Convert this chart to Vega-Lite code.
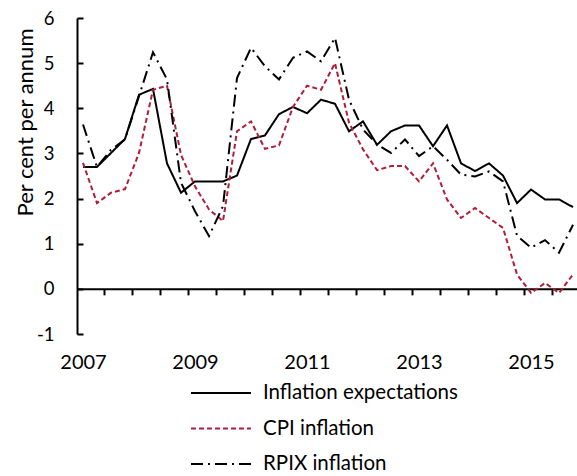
{
  "$schema": "https://vega.github.io/schema/vega-lite/v6.json",
  "width": 500,
  "height": 316,
  "autosize": {"type": "none"},
  "padding": {"left": 77, "top": 18, "right": 0, "bottom": 142},
  "config": {
    "view": {"stroke": null},
    "font": "Lato",
    "axis": {"grid": false, "domainColor": "#000000", "tickColor": "#000000", "labelColor": "#000000", "titleColor": "#000000"},
    "legend": {
      "orient": "none", "legendX": 133, "legendY": 364, "direction": "vertical",
      "symbolType": "M-3,0H3", "symbolSize": 400, "symbolStrokeWidth": 2,
      "labelFontSize": 20.5, "labelColor": "#000000", "labelOffset": 31, "rowPadding": 13.5, "padding": 0, "labelLimit": 400
    }
  },
  "data": {"values": [
    {"t": 2007.00, "Inflation expectations": 2.70, "CPI inflation": 2.79, "RPIX inflation": 3.64},
    {"t": 2007.25, "Inflation expectations": 2.70, "CPI inflation": 1.90, "RPIX inflation": 2.70},
    {"t": 2007.50, "Inflation expectations": 3.01, "CPI inflation": 2.13, "RPIX inflation": 3.08},
    {"t": 2007.75, "Inflation expectations": 3.32, "CPI inflation": 2.21, "RPIX inflation": 3.31},
    {"t": 2008.00, "Inflation expectations": 4.30, "CPI inflation": 3.01, "RPIX inflation": 4.27},
    {"t": 2008.25, "Inflation expectations": 4.43, "CPI inflation": 4.41, "RPIX inflation": 5.24},
    {"t": 2008.50, "Inflation expectations": 2.78, "CPI inflation": 4.50, "RPIX inflation": 4.64},
    {"t": 2008.75, "Inflation expectations": 2.13, "CPI inflation": 2.97, "RPIX inflation": 2.35},
    {"t": 2009.00, "Inflation expectations": 2.38, "CPI inflation": 2.27, "RPIX inflation": 1.72},
    {"t": 2009.25, "Inflation expectations": 2.38, "CPI inflation": 1.76, "RPIX inflation": 1.17},
    {"t": 2009.50, "Inflation expectations": 2.38, "CPI inflation": 1.50, "RPIX inflation": 1.83},
    {"t": 2009.75, "Inflation expectations": 2.51, "CPI inflation": 3.49, "RPIX inflation": 4.67},
    {"t": 2010.00, "Inflation expectations": 3.32, "CPI inflation": 3.71, "RPIX inflation": 5.34},
    {"t": 2010.25, "Inflation expectations": 3.40, "CPI inflation": 3.10, "RPIX inflation": 4.93},
    {"t": 2010.50, "Inflation expectations": 3.87, "CPI inflation": 3.18, "RPIX inflation": 4.64},
    {"t": 2010.75, "Inflation expectations": 4.03, "CPI inflation": 4.03, "RPIX inflation": 5.12},
    {"t": 2011.00, "Inflation expectations": 3.89, "CPI inflation": 4.50, "RPIX inflation": 5.26},
    {"t": 2011.25, "Inflation expectations": 4.19, "CPI inflation": 4.41, "RPIX inflation": 5.04},
    {"t": 2011.50, "Inflation expectations": 4.10, "CPI inflation": 5.00, "RPIX inflation": 5.56},
    {"t": 2011.75, "Inflation expectations": 3.49, "CPI inflation": 3.68, "RPIX inflation": 4.19},
    {"t": 2012.00, "Inflation expectations": 3.71, "CPI inflation": 3.09, "RPIX inflation": 3.53},
    {"t": 2012.25, "Inflation expectations": 3.19, "CPI inflation": 2.63, "RPIX inflation": 3.20},
    {"t": 2012.50, "Inflation expectations": 3.49, "CPI inflation": 2.72, "RPIX inflation": 3.01},
    {"t": 2012.75, "Inflation expectations": 3.62, "CPI inflation": 2.72, "RPIX inflation": 3.31},
    {"t": 2013.00, "Inflation expectations": 3.62, "CPI inflation": 2.38, "RPIX inflation": 2.94},
    {"t": 2013.25, "Inflation expectations": 3.16, "CPI inflation": 2.78, "RPIX inflation": 3.16},
    {"t": 2013.50, "Inflation expectations": 3.62, "CPI inflation": 1.98, "RPIX inflation": 2.86},
    {"t": 2013.75, "Inflation expectations": 2.78, "CPI inflation": 1.57, "RPIX inflation": 2.53},
    {"t": 2014.00, "Inflation expectations": 2.61, "CPI inflation": 1.79, "RPIX inflation": 2.49},
    {"t": 2014.25, "Inflation expectations": 2.78, "CPI inflation": 1.57, "RPIX inflation": 2.60},
    {"t": 2014.50, "Inflation expectations": 2.51, "CPI inflation": 1.35, "RPIX inflation": 2.38},
    {"t": 2014.75, "Inflation expectations": 1.90, "CPI inflation": 0.32, "RPIX inflation": 1.18},
    {"t": 2015.00, "Inflation expectations": 2.20, "CPI inflation": -0.09, "RPIX inflation": 0.91},
    {"t": 2015.25, "Inflation expectations": 1.98, "CPI inflation": 0.13, "RPIX inflation": 1.08},
    {"t": 2015.50, "Inflation expectations": 1.98, "CPI inflation": -0.09, "RPIX inflation": 0.80},
    {"t": 2015.75, "Inflation expectations": 1.81, "CPI inflation": 0.32, "RPIX inflation": 1.42}
  ]},
  "transform": [
    {"fold": ["Inflation expectations", "CPI inflation", "RPIX inflation"], "as": ["series", "value"]}
  ],
  "layer": [
    {
      "mark": {"type": "line", "strokeWidth": 2},
      "encoding": {
        "x": {
          "field": "t", "type": "quantitative",
          "scale": {"domain": [2006.893, 2015.821], "nice": false, "zero": false},
          "axis": {
            "orient": "bottom", "offset": -45.15, "title": null, "labels": false,
            "values": [2007.375, 2007.875, 2008.375, 2008.875, 2009.375, 2009.875, 2010.375, 2010.875, 2011.375, 2011.875, 2012.375, 2012.875, 2013.375, 2013.875, 2014.375, 2014.875, 2015.375],
            "tickSize": 6, "tickWidth": 2, "domainWidth": 2
          }
        },
        "y": {
          "field": "value", "type": "quantitative",
          "scale": {"domain": [-1, 6], "nice": false, "zero": false},
          "axis": {
            "values": [-1, 0, 1, 2, 3, 4, 5, 6], "tickSize": -6, "tickWidth": 2, "domainWidth": 2,
            "labelFontSize": 18.5, "labelPadding": 29,
            "labelExpr": "datum.value < 0 ? '-' + abs(datum.value) : datum.label",
            "title": "Per cent per annum", "titleFontSize": 22, "titleFontWeight": "normal",
            "titleAngle": 270, "titleX": -52, "titleY": 104, "titleAlign": "center", "titleBaseline": "middle"
          }
        },
        "color": {
          "field": "series", "type": "nominal", "title": null,
          "scale": {"domain": ["Inflation expectations", "CPI inflation", "RPIX inflation"], "range": ["#000000", "#b01c3a", "#000000"]}
        },
        "strokeDash": {
          "field": "series", "type": "nominal", "title": null,
          "scale": {"domain": ["Inflation expectations", "CPI inflation", "RPIX inflation"], "range": [[1, 0], [5, 3], [12, 5, 2, 5]]}
        }
      }
    },
    {
      "mark": {"type": "point", "opacity": 0},
      "encoding": {
        "x": {
          "field": "t", "type": "quantitative",
          "axis": {
            "orient": "bottom", "title": null, "values": [2007, 2009, 2011, 2013, 2015], "format": "d",
            "ticks": false, "domain": false, "labelPadding": 18, "labelFontSize": 20
          }
        },
        "y": {"field": "value", "type": "quantitative"}
      }
    }
  ],
  "resolve": {"axis": {"x": "independent"}}
}
